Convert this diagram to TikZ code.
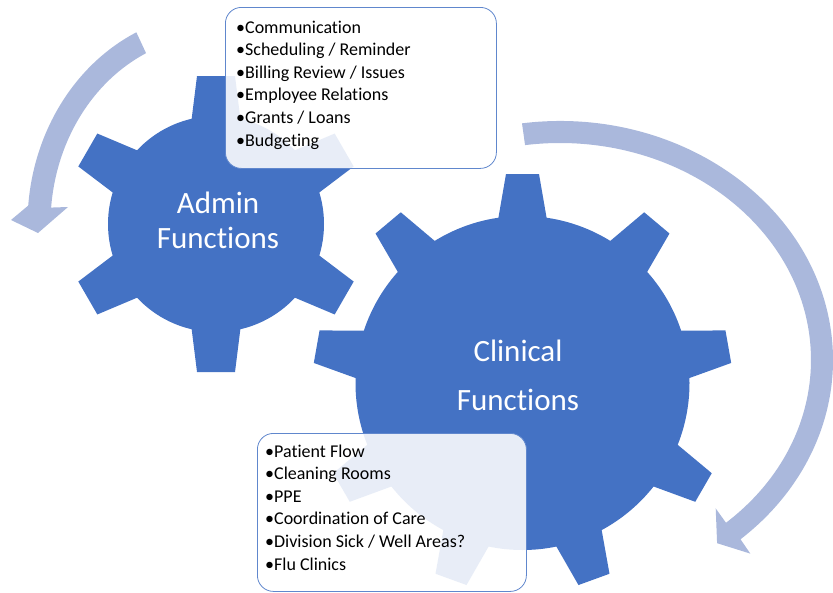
\documentclass[tikz,border=0pt]{standalone}
\usepackage{fontspec}
\setmainfont{Carlito}[Ligatures=NoCommon]
\definecolor{gearblue}{HTML}{4472C4}
\definecolor{arrowblue}{RGB}{170,184,220}
\tikzset{
  listbox/.style={draw=gearblue!85, fill=white, fill opacity=.88, rounded corners=16pt, line width=.8pt, inner sep=0pt, anchor=north west},
  item/.style={font=\fontsize{18}{22.6}\selectfont, anchor=base west, inner sep=0pt},
  gearlabel/.style={text=white, align=center, inner sep=0pt, font=\fontsize{31}{35}\selectfont}
}
\begin{document}
\begin{tikzpicture}[x=1pt, y=-1pt, line join=round]
	\useasboundingbox (0,0) rectangle (833,592);
	% turning arrows
	\begin{scope}[shift={(216,224)}]
		\fill[arrowblue] (-115:188.5 and 211.5) arc[start angle=-115, end angle=-175, x radius=188.5, y radius=211.5]
			-- (-205,-4) -- (-178,9) -- (-148,-17)
			-- (-175:165.5 and 188.5) arc[start angle=-175, end angle=-115, x radius=165.5, y radius=188.5] -- cycle;
	\end{scope}
	\begin{scope}[shift={(560,360)}]
		\fill[arrowblue] (-98:273 and 239) arc[start angle=-98, end angle=48.6, x radius=273, y radius=239]
			-- (190.3,193.6) -- (157.1,183.2) -- (155.7,148.4)
			-- (48.6:251 and 217) arc[start angle=48.6, end angle=-98, x radius=251, y radius=217] -- cycle;
	\end{scope}
	% gears
	\fill[gearblue] (216,224) circle[radius=108];
	\foreach \a in {30,90,...,330}
		\fill[gearblue, shift={(216,224)}, rotate=\a] (100,-25) -- (148,-19) -- (148,19) -- (100,25) -- cycle;
	\fill[gearblue] (522.5,383) circle[radius=167];
	\foreach \a in {10,50,...,330}
		\fill[gearblue, shift={(522.5,383)}, rotate=\a] (160,-25) -- (209,-16.5) -- (209,16.5) -- (160,25) -- cycle;
	\node[gearlabel] (admin) at (218,220) {Admin\\Functions};
	\node[gearlabel, font=\fontsize{31}{49}\selectfont] (clinical) at (518,375) {Clinical\\Functions};
	% lists
	\node[listbox, minimum width=271, minimum height=161] (admlist) at (225,7) {};
	\foreach \t [count=\i] in {Communication, Scheduling / Reminder, Billing Review / Issues, Employee Relations, Grants / Loans, Budgeting}
		\node[item] (adm\i) at (236,{33+22.6*(\i-1)}) {•\t};
	\node[listbox, minimum width=269, minimum height=158] (clinlist) at (257,433) {};
	\foreach \t [count=\i] in {Patient Flow, Cleaning Rooms, PPE, Coordination of Care, Division Sick / Well Areas?, Flu Clinics}
		\node[item] (clin\i) at (265,{457+22.6*(\i-1)}) {•\t};
\end{tikzpicture}
\end{document}
